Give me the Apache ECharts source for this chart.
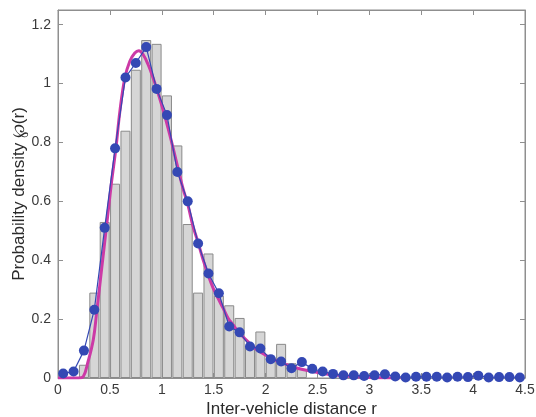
<!DOCTYPE html>
<html>
<head>
<meta charset="utf-8">
<script src="https://cdn.jsdelivr.net/npm/echarts@6/dist/echarts.min.js"></script>
<style>
  html, body { margin: 0; padding: 0; background: #fff; }
  #densityChart { width: 536px; height: 417px; }
</style>
</head>
<body>
<div id="densityChart"></div>
<script>
// histogram bins (centres) and heights
var binCenters = [0.25, 0.35, 0.45, 0.55, 0.65, 0.75, 0.85, 0.95, 1.05, 1.15, 1.25, 1.35, 1.45, 1.55, 1.65, 1.75, 1.85, 1.95, 2.05, 2.15, 2.25, 2.35];
var binHeights = [0.045, 0.29, 0.53, 0.66, 0.84, 1.047, 1.148, 1.135, 0.96, 0.79, 0.523, 0.29, 0.423, 0.28, 0.247, 0.204, 0.11, 0.158, 0.07, 0.116, 0.05, 0.03];

// blue points
var dotX = [0.05, 0.15, 0.25, 0.35, 0.45, 0.55, 0.65, 0.75, 0.85, 0.95, 1.05, 1.15, 1.25, 1.35, 1.45, 1.55, 1.65, 1.75, 1.85, 1.95,
            2.05, 2.15, 2.25, 2.35, 2.45, 2.55, 2.65, 2.75, 2.85, 2.95, 3.05, 3.15, 3.25, 3.35, 3.45, 3.55, 3.65, 3.75, 3.85, 3.95,
            4.05, 4.15, 4.25, 4.35, 4.45];
var dotY = [0.015, 0.022, 0.093, 0.232, 0.51, 0.78, 1.021, 1.07, 1.124, 0.982, 0.893, 0.70, 0.60, 0.457, 0.355, 0.288, 0.175, 0.155, 0.107, 0.10,
            0.064, 0.056, 0.033, 0.054, 0.031, 0.022, 0.014, 0.009, 0.009, 0.007, 0.009, 0.013, 0.005, 0.002, 0.004, 0.004, 0.004, 0.002, 0.004, 0.003,
            0.008, 0.002, 0.003, 0.003, 0.002];

// magenta fitted curve
var curveX = [0, 0.2, 0.244, 0.29, 0.34, 0.372, 0.42, 0.468, 0.516, 0.558, 0.596, 0.644, 0.692, 0.74, 0.779, 0.82, 0.869, 0.917, 0.965, 1.013,
              1.061, 1.11, 1.157, 1.205, 1.253, 1.30, 1.35, 1.397, 1.445, 1.493, 1.54, 1.59, 1.638, 1.686, 1.734, 1.78, 1.83, 1.878,
              1.95, 2.05, 2.15, 2.3, 2.45, 2.6, 2.8, 3.0, 3.3];
var curveY = [0, 0, 0.005, 0.056, 0.13, 0.221, 0.369, 0.517, 0.666, 0.78, 0.905, 1.019, 1.076, 1.104, 1.112, 1.099, 1.064, 1.019, 0.967, 0.91,
              0.848, 0.78, 0.711, 0.643, 0.586, 0.517, 0.46, 0.403, 0.352, 0.307, 0.272, 0.238, 0.204, 0.181, 0.158, 0.141, 0.124, 0.107,
              0.088, 0.068, 0.052, 0.034, 0.022, 0.013, 0.006, 0.002, 0];

var xTicks = [0, 4.5, 0.5];
var yTicks = [0, 1.25, 0.2];

var axisFont = 'Liberation Sans, Arial, sans-serif';
var frameColor = '#8f8f8f';

function zip(xs, ys) {
    return xs.map(function (x, i) { return [x, ys[i]]; });
}

var chart = echarts.init(document.getElementById('densityChart'));

var baseX = {
    type: 'value',
    min: xTicks[0],
    max: xTicks[1],
    interval: xTicks[2],
    splitLine: { show: false },
    axisLine: { onZero: false, lineStyle: { color: frameColor, width: 1 } },
    axisTick: { inside: true, length: 5, lineStyle: { color: frameColor } }
};
var baseY = {
    type: 'value',
    min: yTicks[0],
    max: yTicks[1],
    interval: yTicks[2],
    splitLine: { show: false },
    axisLine: { onZero: false, lineStyle: { color: frameColor, width: 1 } },
    axisTick: { inside: true, length: 5, lineStyle: { color: frameColor } }
};

chart.setOption({
    animation: false,
    grid: {
        left: 58, right: 11, top: 10, bottom: 39,
        outerBoundsMode: 'none',
        show: true, borderColor: frameColor, borderWidth: 1
    },
    xAxis: [
        Object.assign({}, baseX, {
            position: 'bottom',
            name: 'Inter-vehicle distance r',
            nameLocation: 'middle',
            nameGap: 23,
            nameMoveOverlap: false,
            nameTextStyle: { fontFamily: axisFont, fontSize: 17, color: '#2b2b2b' },
            axisLabel: { fontFamily: axisFont, fontSize: 14, color: '#3a3a3a', margin: 5 }
        }),
        Object.assign({}, baseX, {
            position: 'top',
            axisLabel: { show: false }
        })
    ],
    yAxis: [
        Object.assign({}, baseY, {
            position: 'left',
            name: 'Probability density \u2118(r)',
            nameLocation: 'middle',
            nameGap: 30,
            nameMoveOverlap: false,
            nameTextStyle: { fontFamily: axisFont, fontSize: 17, color: '#2b2b2b' },
            axisLabel: { fontFamily: axisFont, fontSize: 14, color: '#3a3a3a', margin: 7, showMaxLabel: false }
        }),
        Object.assign({}, baseY, {
            position: 'right',
            axisLabel: { show: false }
        })
    ],
    series: [
        {
            type: 'bar',
            data: zip(binCenters, binHeights),
            barWidth: 10,
            itemStyle: { color: '#d6d6d6', borderColor: '#8a8a8a', borderWidth: 1 }
        },
        {
            type: 'line',
            data: zip(curveX, curveY),
            smooth: 0.4,
            showSymbol: false,
            lineStyle: { color: '#cc3aa6', width: 3 }
        },
        {
            type: 'line',
            data: zip(dotX, dotY),
            symbol: 'circle',
            symbolSize: 10,
            itemStyle: { color: '#3448b4' },
            lineStyle: { color: '#3448b4', width: 1.2 }
        },
        {
            // keeps the top and right frame axes (with their inside ticks) drawn
            type: 'line',
            xAxisIndex: 1,
            yAxisIndex: 1,
            data: [],
            silent: true
        }
    ]
});

window.addEventListener('resize', function () { chart.resize(); });
</script>
</body>
</html>
